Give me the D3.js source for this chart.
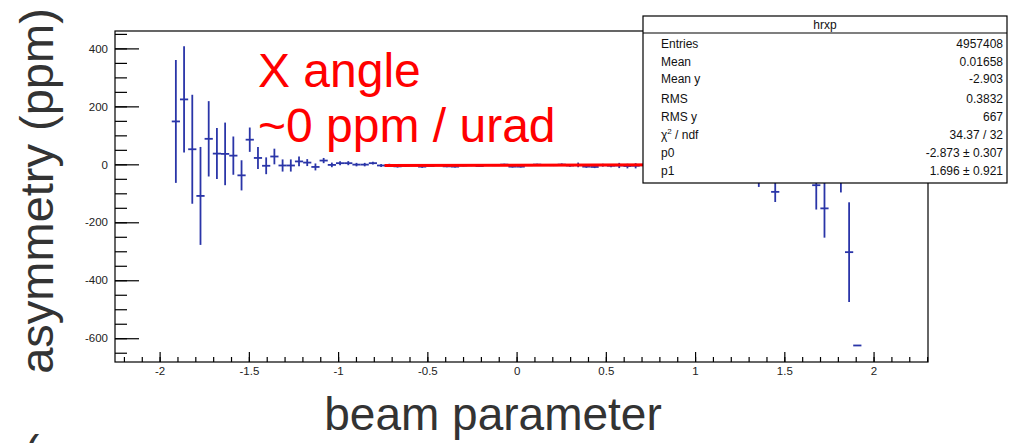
<!DOCTYPE html>
<html>
<head>
<meta charset="utf-8">
<script src="https://cdn.jsdelivr.net/npm/d3@7"></script>
<style>
  html, body { margin: 0; padding: 0; background: #ffffff; }
  svg { display: block; font-family: "Liberation Sans", Arial, Helvetica, sans-serif; }
</style>
</head>
<body>
<svg id="chart" width="1010" height="443"></svg>
<script>
// Profile histogram "hrxp": asymmetry vs beam parameter (bin width 0.046)
const binCenters = [
  -1.909, -1.863, -1.817, -1.771, -1.725, -1.679, -1.633, -1.587, -1.541, -1.495,
  -1.449, -1.403, -1.357, -1.311, -1.265, -1.219, -1.173, -1.127, -1.081, -1.035,
  -0.989, -0.943, -0.897, -0.851, -0.805, -0.759, -0.713, -0.667, -0.621, -0.575,
  -0.529, -0.483, -0.437, -0.391, -0.345, -0.299, -0.253, -0.207, -0.161, -0.115,
  -0.069, -0.023, 0.023, 0.069, 0.115, 0.161, 0.207, 0.253, 0.299, 0.345,
  0.391, 0.437, 0.483, 0.529, 0.575, 0.621, 0.667, 0.713, 0.759, 0.805,
  0.851, 0.897, 0.943, 0.989, 1.035, 1.081, 1.127, 1.173, 1.219, 1.265,
  1.311, 1.357, 1.403, 1.449, 1.495, 1.541, 1.587, 1.633, 1.679, 1.725,
  1.771, 1.817, 1.863, 1.909
];
const asymValues = [
  148, 224, 52, -109, 88, 37, 36, 30, -38, 85,
  22, -5, 27, -4, -4, 10, 6, -9, 13, -2,
  4, 4, -1, -1, 4, -4, -3, -7, -5, -3,
  -8, -6, -2, -7, -8, -4, -3, -6, -2, -3,
  -1, -8, -8, -3, -1, -2, -3, -1, -4, -2,
  -8, -9, -3, -5, -4, -6, -5, -3, 2, -5,
  1, -8, 4, -2, -10, 6, -12, 3, -15, 8,
  -20, -45, -10, -95, -20, -10, -10, 10, -72, -152,
  20, -40, -303, -625
];
const asymErrors = [
  212, 183, 188, 169, 130, 88, 108, 66, 52, 42,
  38, 29, 27, 21, 21, 17, 12, 12, 9, 8,
  7, 7, 6, 6, 5, 5, 5, 4, 4, 3,
  4, 3, 3, 3, 3, 3, 3, 3, 3, 3,
  3, 3, 3, 3, 3, 3, 3, 4, 4, 8,
  4, 4, 5, 5, 9, 8, 9, 10, 10, 11,
  12, 13, 14, 15, 17, 18, 20, 22, 24, 26,
  28, 33, 36, 35, 38, 45, 45, 55, 84, 101,
  70, 57, 172, 0
];
const binHalfWidth = 0.023;

// Linear fit pol1 over [-0.74, 2.3]
const fitP0 = -2.873;
const fitP1 = 1.696;
const fitRange = [-0.74, 2.3];

const xTicksMajor = [-2, -1.5, -1, -0.5, 0, 0.5, 1, 1.5, 2];
const yTicksMajor = [-600, -400, -200, 0, 200, 400];

const statLabels = ["Entries", "Mean", "Mean y", "RMS", "RMS y", "CHI2", "p0", "p1"];
const statValues = ["4957408", "0.01658", "-2.903", "0.3832", "667", "34.37 / 32", "-2.873 \u00b1 0.307", "1.696 \u00b1 0.921"];
const statTitle = "hrxp";

const svg = d3.select("#chart");
const frame = { left: 115, right: 928, top: 31, bottom: 362 };

const x = d3.scaleLinear().domain([-2.25, 2.305]).range([frame.left, frame.right]);
const y = d3.scaleLinear().domain([-682, 460]).range([frame.bottom, frame.top]);

const minorX = d3.range(-22, 24).map(i => i / 10).filter(v => v >= -2.25 && v <= 2.305);
const minorY = d3.range(-650, 451, 50);

// Frame
svg.append("rect")
  .attr("x", frame.left).attr("y", frame.top)
  .attr("width", frame.right - frame.left).attr("height", frame.bottom - frame.top)
  .attr("fill", "none").attr("stroke", "#000").attr("stroke-width", 1.2);

// Y axis (ticks pointing into the pad)
const yAxisMinor = svg.append("g").attr("transform", `translate(${frame.left},0)`)
  .call(d3.axisLeft(y).tickValues(minorY).tickSize(-12).tickFormat(""));
const yAxis = svg.append("g").attr("transform", `translate(${frame.left},0)`)
  .call(d3.axisLeft(y).tickValues(yTicksMajor).tickSize(-24).tickPadding(7).tickFormat(d => String(d)));

// X axis
const xAxisMinor = svg.append("g").attr("transform", `translate(0,${frame.bottom})`)
  .call(d3.axisBottom(x).tickValues(minorX).tickSize(-5).tickFormat(""));
const xAxis = svg.append("g").attr("transform", `translate(0,${frame.bottom})`)
  .call(d3.axisBottom(x).tickValues(xTicksMajor).tickSize(-10).tickPadding(5).tickFormat(d => String(d)));

[yAxisMinor, yAxis, xAxisMinor, xAxis].forEach(g => {
  g.select(".domain").remove();
  g.selectAll("line").attr("stroke", "#000").attr("stroke-width", 1.2);
  g.selectAll("text").attr("fill", "#222").attr("font-size", 11.5)
    .attr("font-family", "'Liberation Sans', Arial, sans-serif");
});

// Data points with error bars
const points = binCenters.map((c, i) => ({ x: c, v: asymValues[i], e: asymErrors[i] }));
const blue = "#2a35a8";
const pts = svg.append("g").attr("stroke", blue).attr("stroke-width", 1.8).attr("fill", "none");
pts.selectAll("line.h").data(points).join("line").attr("class", "h")
  .attr("x1", d => x(d.x - binHalfWidth)).attr("x2", d => x(d.x + binHalfWidth))
  .attr("y1", d => y(d.v)).attr("y2", d => y(d.v));
pts.selectAll("line.v").data(points.filter(d => d.e > 0)).join("line").attr("class", "v")
  .attr("x1", d => x(d.x)).attr("x2", d => x(d.x))
  .attr("y1", d => y(d.v + d.e)).attr("y2", d => y(d.v - d.e));

// Fit line
svg.append("line")
  .attr("x1", x(fitRange[0])).attr("y1", y(fitP0 + fitP1 * fitRange[0]))
  .attr("x2", x(fitRange[1])).attr("y2", y(fitP0 + fitP1 * fitRange[1]))
  .attr("stroke", "#ff0000").attr("stroke-width", 3);

// Annotation
const note = svg.append("g").attr("fill", "#ff0000").attr("font-size", 48)
  .attr("font-family", "'Liberation Sans', Arial, sans-serif");
note.append("text").attr("x", 258).attr("y", 87).text("X angle");
note.append("text").attr("x", 258).attr("y", 142).text("~0 ppm / urad");

// Axis titles
svg.append("text")
  .attr("transform", "translate(53,191) rotate(-90)")
  .attr("text-anchor", "middle").attr("font-size", 47).attr("fill", "#333")
  .text("asymmetry (ppm)");
svg.append("text")
  .attr("x", 493).attr("y", 430)
  .attr("text-anchor", "middle").attr("font-size", 46).attr("fill", "#333")
  .text("beam parameter");
svg.append("text")
  .attr("x", 24).attr("y", 468).attr("font-size", 46).attr("fill", "#333")
  .text("(");

// Statistics box
const box = { left: 643, right: 1007, top: 16, bottom: 183, header: 33 };
const sb = svg.append("g");
sb.append("rect")
  .attr("x", box.left).attr("y", box.top)
  .attr("width", box.right - box.left).attr("height", box.bottom - box.top)
  .attr("fill", "#fff").attr("stroke", "#000").attr("stroke-width", 1.2);
sb.append("line")
  .attr("x1", box.left).attr("x2", box.right).attr("y1", box.header).attr("y2", box.header)
  .attr("stroke", "#000").attr("stroke-width", 1.2);
sb.append("text")
  .attr("x", (box.left + box.right) / 2).attr("y", 29)
  .attr("text-anchor", "middle").attr("font-size", 12).attr("fill", "#111")
  .text(statTitle);
const rowY = [48, 66, 83, 103, 121, 139, 157, 175];
statLabels.forEach((lab, i) => {
  const t = sb.append("text").attr("x", 661).attr("y", rowY[i])
    .attr("font-size", 12).attr("fill", "#111");
  if (lab === "CHI2") {
    t.append("tspan").text("\u03c7");
    t.append("tspan").attr("dy", -5).attr("font-size", 8).text("2");
    t.append("tspan").attr("dy", 5).text(" / ndf");
  } else {
    t.text(lab);
  }
  sb.append("text").attr("x", 1003).attr("y", rowY[i])
    .attr("text-anchor", "end").attr("font-size", 12).attr("fill", "#111")
    .text(statValues[i]);
});
</script>
</body>
</html>
